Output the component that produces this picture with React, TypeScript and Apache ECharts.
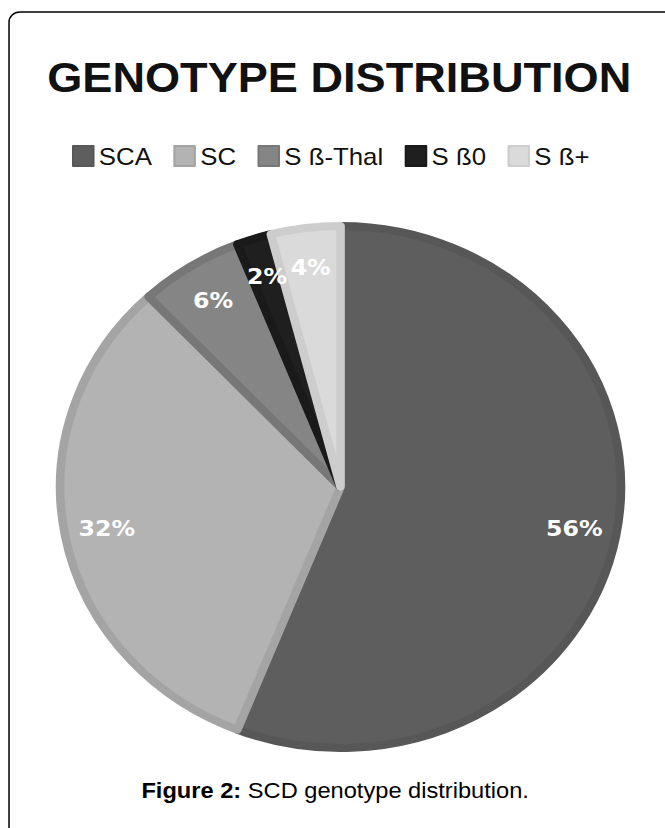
import React, { useEffect, useRef } from "react";
import * as echarts from "echarts";

const categories = ["SCA", "SC", "S ß-Thal", "S ß0", "S ß+"];
const values = [56, 32, 6, 2, 4];
const fillColors = ["#5e5e5e", "#b3b3b3", "#858585", "#1f1f1f", "#dadada"];
const bandColors = ["#575757", "#a4a4a4", "#777777", "#1a1a1a", "#cdcdcd"];
const titleText = "GENOTYPE DISTRIBUTION";
const captionBold = "Figure 2:";
const captionRest = " SCD genotype distribution.";

const PAGE_W = 665;
const PAGE_H = 828;
const CHART_W = 619;
const SX = PAGE_W / CHART_W;

export default function App() {
  const ref = useRef<HTMLDivElement>(null);

  useEffect(() => {
    document.body.style.margin = "0";
    const chart = echarts.init(ref.current!, undefined, {
      renderer: "svg",
      width: CHART_W,
      height: PAGE_H,
    });
    const pieData = categories.map((name, i) => ({
      name,
      value: values[i],
      itemStyle: { color: fillColors[i], borderColor: bandColors[i] },
    }));
    const labelData = categories.map((name, i) => ({ name, value: values[i] }));
    const center = [317, 487];
    chart.setOption({
      animation: false,
      backgroundColor: "#ffffff",
      title: {
        text: titleText,
        left: 39,
        top: 52,
        textStyle: {
          fontFamily: "Liberation Sans",
          fontWeight: "bold",
          fontSize: 42,
          color: "#111111",
        },
      },
      legend: {
        data: categories,
        left: 62,
        top: 139,
        icon: "rect",
        itemWidth: 19,
        itemHeight: 20,
        itemGap: 20,
        textStyle: {
          fontFamily: "Liberation Sans",
          fontSize: 24,
          color: "#111111",
          padding: [0, 0, 0, 0],
        },
        selectedMode: false,
      },
      graphic: [
        {
          type: "rect",
          shape: { x: 8.4, y: 12, width: 900, height: 1000, r: 10 },
          style: { fill: "none", stroke: "#000000", lineWidth: 1.4 },
          silent: true,
        },
        {
          type: "text",
          x: 312,
          y: 790,
          style: {
            text: "{b|" + captionBold + "}{n|" + captionRest + "}",
            align: "center",
            verticalAlign: "middle",
            rich: {
              b: {
                fontFamily: "Liberation Sans",
                fontWeight: "bold",
                fontSize: 22,
                fill: "#000000",
              },
              n: {
                fontFamily: "Liberation Sans",
                fontSize: 22,
                fill: "#000000",
              },
            },
          },
          silent: true,
        },
      ],
      series: [
        {
          type: "pie",
          center,
          radius: [0, 261],
          startAngle: 90,
          clockwise: true,
          data: pieData,
          itemStyle: { borderWidth: 8 },
          label: { show: false },
          labelLine: { show: false },
          emphasis: { disabled: true },
          silent: true,
        },
        {
          type: "pie",
          center,
          radius: [172, 265],
          startAngle: 90,
          clockwise: true,
          data: labelData,
          itemStyle: { color: "rgba(0,0,0,0)", borderWidth: 0 },
          label: {
            show: true,
            position: "inside",
            formatter: "{c}%",
            fontFamily: "DejaVu Sans",
            fontWeight: "bold",
            fontSize: 22,
            color: "#ffffff",
          },
          labelLine: { show: false },
          emphasis: { disabled: true },
          silent: true,
          legendHoverLink: false,
        },
      ],
    });
    return () => chart.dispose();
  }, []);

  return (
    <div
      style={{
        position: "absolute",
        left: 0,
        top: 0,
        width: PAGE_W,
        height: PAGE_H,
        overflow: "hidden",
        background: "#ffffff",
      }}
    >
      <div
        ref={ref}
        style={{
          width: CHART_W,
          height: PAGE_H,
          transform: `scaleX(${SX})`,
          transformOrigin: "0 0",
        }}
      />
    </div>
  );
}
